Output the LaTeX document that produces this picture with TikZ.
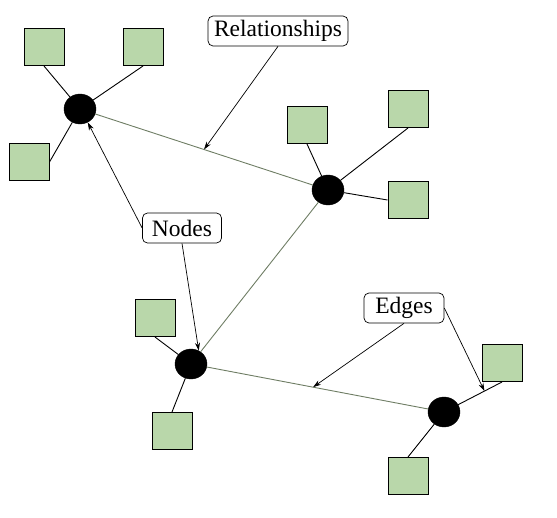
\documentclass[tikz,border=0pt]{standalone}
\usepackage{fontspec}
\setmainfont{Liberation Serif}
\usetikzlibrary{shapes.geometric,arrows.meta}
\definecolor{sqgreen}{RGB}{185,215,170}
\definecolor{edgegray}{RGB}{110,125,100}
\tikzset{
  sq/.style={draw=black, fill=sqgreen, line width=1pt, minimum width=40pt, minimum height=37pt, inner sep=0pt},
  hub/.style={ellipse, fill=black, draw=black, minimum width=32pt, minimum height=30pt, inner sep=0pt},
  lbl/.style={draw=black, rounded corners=5pt, fill=white, font=\fontsize{23.5}{25}\selectfont, inner xsep=6pt, inner ysep=0pt, minimum height=30pt, line width=0.7pt},
  spoke/.style={draw=black, line width=0.9pt},
  rel/.style={draw=edgegray, line width=0.9pt},
  ann/.style={draw=black, line width=0.7pt, -{Stealth[length=8pt,width=5pt]}}
}
\begin{document}
\begin{tikzpicture}[x=1pt,y=-1pt]
\useasboundingbox (0,0) rectangle (557,517);
% hubs
\node[hub] (A) at (80,109) {};
\node[hub] (B) at (328,190) {};
\node[hub] (C) at (191,364) {};
\node[hub] (D) at (444,412) {};
% squares
\node[sq] (a1) at (44,47) {};
\node[sq] (a2) at (143,47) {};
\node[sq] (a3) at (29,162) {};
\node[sq] (b1) at (307,125) {};
\node[sq] (b2) at (408,109) {};
\node[sq] (b3) at (408,200) {};
\node[sq] (c1) at (155,318) {};
\node[sq] (c2) at (172,431) {};
\node[sq] (d1) at (502,363) {};
\node[sq] (d2) at (408,476) {};
% spokes
\draw[spoke] (a1.south) -- (A);
\draw[spoke] (a2.south) -- (A);
\draw[spoke] (a3.east) -- (A);
\draw[spoke] (b1.south) -- (B);
\draw[spoke] (b2.south) -- (B);
\draw[spoke] (b3.west) -- (B);
\draw[spoke] (c1.south) -- (C);
\draw[spoke] (c2.north) -- (C);
\draw[spoke] (d1.south) -- coordinate[pos=0.4] (pd) (D);
\draw[spoke] (d2.north) -- (D);
% relationships
\draw[rel] (A) -- coordinate[pos=0.5] (pab) (B);
\draw[rel] (B) -- (C);
\draw[rel] (C) -- coordinate[pos=0.48] (pcd) (D);
% labels
\node[lbl] (R) at (278,31) {Relationships};
\node[lbl, minimum width=79pt] (N) at (182,228) {Nodes};
\node[lbl, minimum width=80pt] (E) at (404,308) {Edges};
% annotation arrows
\draw[ann] (R.south) -- (pab);
\draw[ann] (N.west) -- (A.-60);
\draw[ann] (N.south) -- (C.60);
\draw[ann] (E.south) -- (pcd);
\draw[ann] (E.east) -- (pd);
\end{tikzpicture}
\end{document}
